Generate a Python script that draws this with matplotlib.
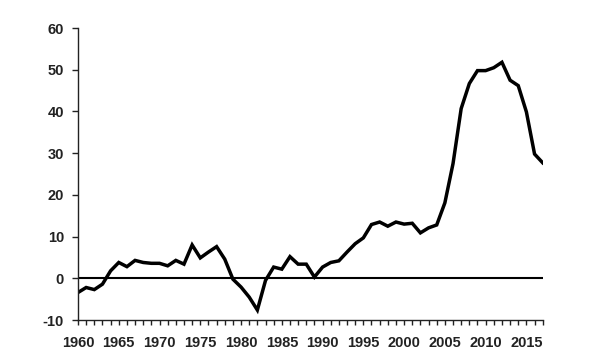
import matplotlib
matplotlib.use("Agg")
import matplotlib.pyplot as plt

# Values, one per year
years = list(range(1960, 2018))
values = [-3.4, -2.2, -2.7, -1.4, 1.8, 3.8, 2.8, 4.3, 3.8, 3.6,
          3.6, 3.0, 4.3, 3.4, 8.0, 4.9, 6.3, 7.6, 4.6, -0.2,
          -2.1, -4.5, -7.6, -0.5, 2.7, 2.2, 5.2, 3.4, 3.4, 0.3,
          2.7, 3.8, 4.2, 6.3, 8.3, 9.7, 12.9, 13.5, 12.5, 13.5,
          13.0, 13.2, 10.9, 12.1, 12.8, 18.1, 27.5, 40.7, 46.7, 49.8,
          49.8, 50.5, 51.8, 47.5, 46.2, 39.9, 29.8, 27.7]

y_ticks = [-10, 0, 10, 20, 30, 40, 50, 60]
x_labels = list(range(1960, 2018, 5))

plt.rcParams['font.family'] = ['Liberation Sans', 'DejaVu Sans']
plt.rcParams['axes.unicode_minus'] = False

fig = plt.figure(figsize=(6, 3.6), dpi=100)
ax = fig.add_axes([0.13, 0.111, 0.7745, 0.811])

ax.axhline(0, color='black', linewidth=1.5, zorder=1)
ax.plot(years, values, color='black', linewidth=2.5, solid_joinstyle='miter', zorder=2)

ax.set_xlim(1960, 2017)
ax.set_ylim(-10, 60)
ax.set_yticks(y_ticks)
ax.set_xticks(years, minor=True)
ax.set_xticks(x_labels)
ax.set_xticklabels([str(x) for x in x_labels])

for side in ['top', 'right']:
    ax.spines[side].set_visible(False)
for side in ['left', 'bottom']:
    ax.spines[side].set_linewidth(1.0)
    ax.spines[side].set_color('#222222')

ax.tick_params(axis='y', direction='out', length=4, width=1.0, pad=6,
               labelsize=10.5, labelcolor='#222222', colors='#222222')
ax.tick_params(axis='x', which='both', direction='out', length=3.5, width=1.0,
               colors='#222222')
ax.tick_params(axis='x', which='major', pad=8, labelsize=10.5, labelcolor='#222222')
for lab in ax.get_xticklabels() + ax.get_yticklabels():
    lab.set_fontweight('bold')

fig.savefig('out.png', dpi=100)
